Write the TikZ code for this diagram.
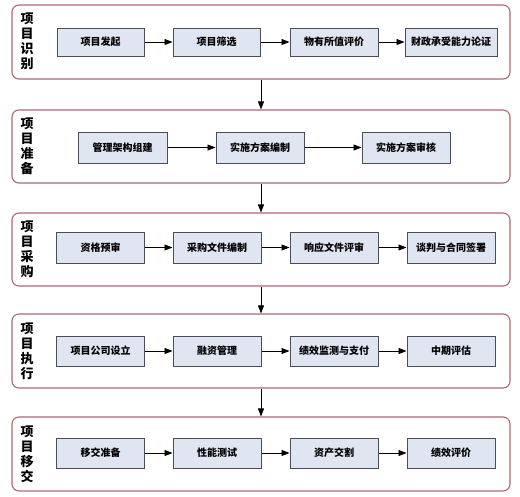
\documentclass[tikz,border=0pt]{standalone}
\usepackage{fontspec}
\setmainfont{Noto Sans CJK SC}
\usetikzlibrary{arrows.meta}
\tikzset{
  panel/.style={draw=panelc, line width=1.1pt, rounded corners=7pt, fill=white, inner sep=0pt},
  stepbox/.style={draw=boxc, fill=boxfill, line width=1pt, inner sep=0pt, minimum height=30pt, minimum width=88pt, font=\fontsize{10}{12}\selectfont\bfseries},
  lab/.style={align=center, font=\fontsize{13}{15}\selectfont\bfseries, inner sep=0pt},
  flow/.style={draw=black, line width=0.8pt, -{Triangle[length=8pt,width=6pt]}}
}
\definecolor{panelc}{HTML}{A86B74}
\definecolor{boxc}{HTML}{4A4E58}
\definecolor{boxfill}{HTML}{DFE5F1}
\begin{document}
\begin{tikzpicture}[x=1pt,y=-1pt]
\useasboundingbox (0,0) rectangle (520,496);
\fill[white] (0,0) rectangle (520,496);
% panels
\node[panel, minimum width=498pt, minimum height=74pt] (p1) at (261,42) {};
\node[panel, minimum width=498pt, minimum height=73pt] (p2) at (261,146.5) {};
\node[panel, minimum width=498pt, minimum height=73pt] (p3) at (261,249.5) {};
\node[panel, minimum width=498pt, minimum height=74pt] (p4) at (261,351) {};
\node[panel, minimum width=498pt, minimum height=74pt] (p5) at (261,454) {};
% labels
\node[lab] (l1) at (27,41) {项\\目\\识\\别};
\node[lab] (l2) at (27,146) {项\\目\\准\\备};
\node[lab] (l3) at (27,249) {项\\目\\采\\购};
\node[lab] (l4) at (27,351) {项\\目\\执\\行};
\node[lab] (l5) at (27,454) {项\\目\\移\\交};
% row 1
\node[stepbox, minimum height=28pt, minimum width=87pt] (a1) at (100.5,42) {项目发起};
\node[stepbox, minimum height=28pt, minimum width=87pt] (a2) at (216.5,42) {项目筛选};
\node[stepbox, minimum height=28pt] (a3) at (334,42) {物有所值评价};
\node[stepbox, minimum height=28pt, minimum width=92pt] (a4) at (451,42) {财政承受能力论证};
% row 2
\node[stepbox, minimum height=31pt, minimum width=89pt] (b1) at (122.5,147.5) {管理架构组建};
\node[stepbox, minimum height=31pt] (b2) at (260,147.5) {实施方案编制};
\node[stepbox, minimum height=31pt] (b3) at (406,147.5) {实施方案审核};
% row 3
\node[stepbox, minimum height=31pt] (c1) at (100.5,247.5) {资格预审};
\node[stepbox, minimum height=31pt] (c2) at (217,247.5) {采购文件编制};
\node[stepbox, minimum height=31pt] (c3) at (334,247.5) {响应文件评审};
\node[stepbox, minimum height=31pt] (c4) at (451,247.5) {谈判与合同签署};
% row 4
\node[stepbox] (d1) at (100.5,351) {项目公司设立};
\node[stepbox] (d2) at (217,351) {融资管理};
\node[stepbox] (d3) at (334,351) {绩效监测与支付};
\node[stepbox] (d4) at (451,351) {中期评估};
% row 5
\node[stepbox] (e1) at (100.5,453) {移交准备};
\node[stepbox] (e2) at (217,453) {性能测试};
\node[stepbox] (e3) at (334,453) {资产交割};
\node[stepbox] (e4) at (451,453) {绩效评价};
% horizontal arrows
\foreach \r in {a,c,d,e}{
  \draw[flow] (\r1) -- (\r2);
  \draw[flow] (\r2) -- (\r3);
  \draw[flow] (\r3) -- (\r4);
}
\draw[flow] (b1) -- (b2);
\draw[flow] (b2) -- (b3);
% vertical arrows
\draw[flow] (p1.south) -- (p2.north);
\draw[flow] (p2.south) -- (p3.north);
\draw[flow] (p3.south) -- (p4.north);
\draw[flow] (p4.south) -- (p5.north);
\end{tikzpicture}
\end{document}
